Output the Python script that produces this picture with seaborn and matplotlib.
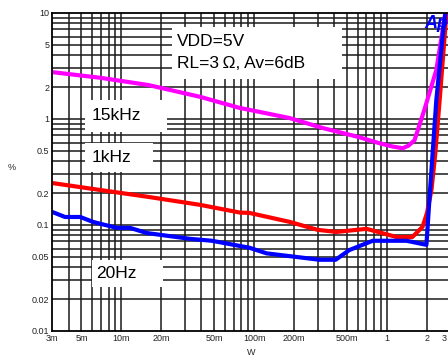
import numpy as np
import pandas as pd
import matplotlib
matplotlib.use("Agg")
import matplotlib.pyplot as plt
import matplotlib.transforms as mtransforms
import seaborn as sns
from matplotlib.patches import Rectangle
from matplotlib.ticker import FixedLocator

# ---- data ----
w_15k = [0.003, 0.0069, 0.016, 0.039, 0.078, 0.092, 0.185, 0.33, 0.6, 0.88, 1.1, 1.31, 1.45, 1.61, 1.91, 2.35, 2.75]
thd_15k = [2.77, 2.45, 2.09, 1.62, 1.27, 1.22, 1.02, 0.82, 0.68, 0.59, 0.55, 0.53, 0.56, 0.63, 1.22, 2.9, 10.0]

w_1k = [0.003, 0.0069, 0.016, 0.039, 0.078, 0.092, 0.185, 0.3, 0.417, 0.7, 1.18, 1.55, 1.85, 2.0, 2.16, 2.3, 2.5, 2.8]
thd_1k = [0.249, 0.214, 0.184, 0.155, 0.131, 0.130, 0.107, 0.090, 0.086, 0.092, 0.077, 0.077, 0.096, 0.13, 0.214, 0.45, 1.6, 10.0]

w_20 = [0.003, 0.00376, 0.0049, 0.0061, 0.0092, 0.0116, 0.0155, 0.033, 0.048, 0.092, 0.124, 0.31, 0.41, 0.52, 0.78, 1.4, 1.98, 2.1, 2.35, 2.65, 2.75]
thd_20 = [0.133, 0.119, 0.119, 0.107, 0.094, 0.094, 0.084, 0.074, 0.071, 0.061, 0.054, 0.047, 0.047, 0.058, 0.071, 0.071, 0.065, 0.2, 1.5, 7.0, 10.0]

series_names = ["15kHz", "1kHz", "20Hz"]
series_colors = ["#ff00ff", "#ff0000", "#0000ff"]

x_ticks = [0.003, 0.005, 0.01, 0.02, 0.05, 0.1, 0.2, 0.5, 1, 2, 3]
x_labels = ["3m", "5m", "10m", "20m", "50m", "100m", "200m", "500m", "1", "2", "3"]
y_ticks = [0.01, 0.02, 0.05, 0.1, 0.2, 0.5, 1, 2, 5, 10]
y_labels = ["0.01", "0.02", "0.05", "0.1", "0.2", "0.5", "1", "2", "5", "10"]

df = pd.concat([
    pd.DataFrame({"W": w_15k, "THD": thd_15k, "f": "15kHz"}),
    pd.DataFrame({"W": w_1k, "THD": thd_1k, "f": "1kHz"}),
    pd.DataFrame({"W": w_20, "THD": thd_20, "f": "20Hz"}),
], ignore_index=True)

sns.set_theme(style="white")
plt.rcParams["font.family"] = ["Liberation Sans", "DejaVu Sans"]

W, H = 448, 360
fig = plt.figure(figsize=(W / 100, H / 100), dpi=100)
L, R, T, B = 52, 450.4, 13, 331
ax = fig.add_axes([L / W, 1 - B / H, (R - L) / W, (B - T) / H])
ax.set_xscale("log")
ax.set_yscale("log")
ax.set_xlim(0.003, 3)
ax.set_ylim(0.01, 10)

# grid at every minor position
xg = [m * 10.0 ** e for e in range(-3, 1) for m in range(1, 10)]
xg = [v for v in xg if 0.003 < v < 3]
yg = [m * 10.0 ** e for e in range(-2, 1) for m in range(1, 10)]
yg = [v for v in yg if 0.01 < v < 10]
for v in xg:
    ax.axvline(v, color="#1a1a1a", lw=1.1, zorder=1)
for v in yg:
    ax.axhline(v, color="#1a1a1a", lw=1.1, zorder=1)

def px_box(x0, x1, y0, y1):
    ax.add_patch(Rectangle(((x0 - L) / (R - L), (B - y1) / (B - T)),
                           (x1 - x0) / (R - L), (y1 - y0) / (B - T),
                           transform=ax.transAxes, facecolor="white",
                           edgecolor="none", zorder=2))

def px_text(x, y, s, **kw):
    ax.text((x - L) / (R - L), (B - y) / (B - T), s, transform=ax.transAxes,
            zorder=5, **kw)

px_box(172, 342, 27, 79)
px_box(85, 167, 100, 132)
px_box(85, 153, 143, 172)
px_box(92, 163, 260, 287)

sns.lineplot(data=df, x="W", y="THD", hue="f", hue_order=series_names,
             palette=series_colors, sort=False, units="f", estimator=None,
             lw=3.0, legend=False, ax=ax, zorder=3)

fs = 12.5
px_text(177, 41, "VDD=5V", fontsize=fs, va="center", ha="left", color="black")
px_text(177, 63, "RL=3\u2009\u03a9, Av=6dB", fontsize=fs, va="center", ha="left", color="black")
px_text(92, 116, "15kHz", fontsize=fs, va="center", ha="left", color="black")
px_text(92, 158, "1kHz", fontsize=fs, va="center", ha="left", color="black")
px_text(96, 274, "20Hz", fontsize=fs, va="center", ha="left", color="black")
px_text(424, 23, "Ap", fontsize=13, va="center", ha="left", color="#0000ff",
        fontweight="bold", fontstyle="italic")

ax.xaxis.set_major_locator(FixedLocator(x_ticks))
ax.xaxis.set_minor_locator(FixedLocator([]))
ax.set_xticklabels(x_labels)
ax.yaxis.set_major_locator(FixedLocator(y_ticks))
ax.yaxis.set_minor_locator(FixedLocator([]))
ax.set_yticklabels(y_labels)
ax.tick_params(axis="both", length=0, labelsize=6.5, colors="#222222", pad=2)
# keep the last x label inside the canvas
last = ax.get_xticklabels()[-1]
last.set_transform(last.get_transform() +
                   mtransforms.ScaledTranslation(-6 / 100, 0, fig.dpi_scale_trans))
ax.set_xlabel("W", fontsize=6.5, labelpad=4)
ax.set_ylabel("%", fontsize=6.5, rotation=0, labelpad=0)
ax.yaxis.set_label_coords(-0.1, 0.5)
for s in ax.spines.values():
    s.set_color("black")
    s.set_linewidth(1.3)
    s.set_zorder(4)

fig.savefig("out.png", dpi=100, facecolor="white")
